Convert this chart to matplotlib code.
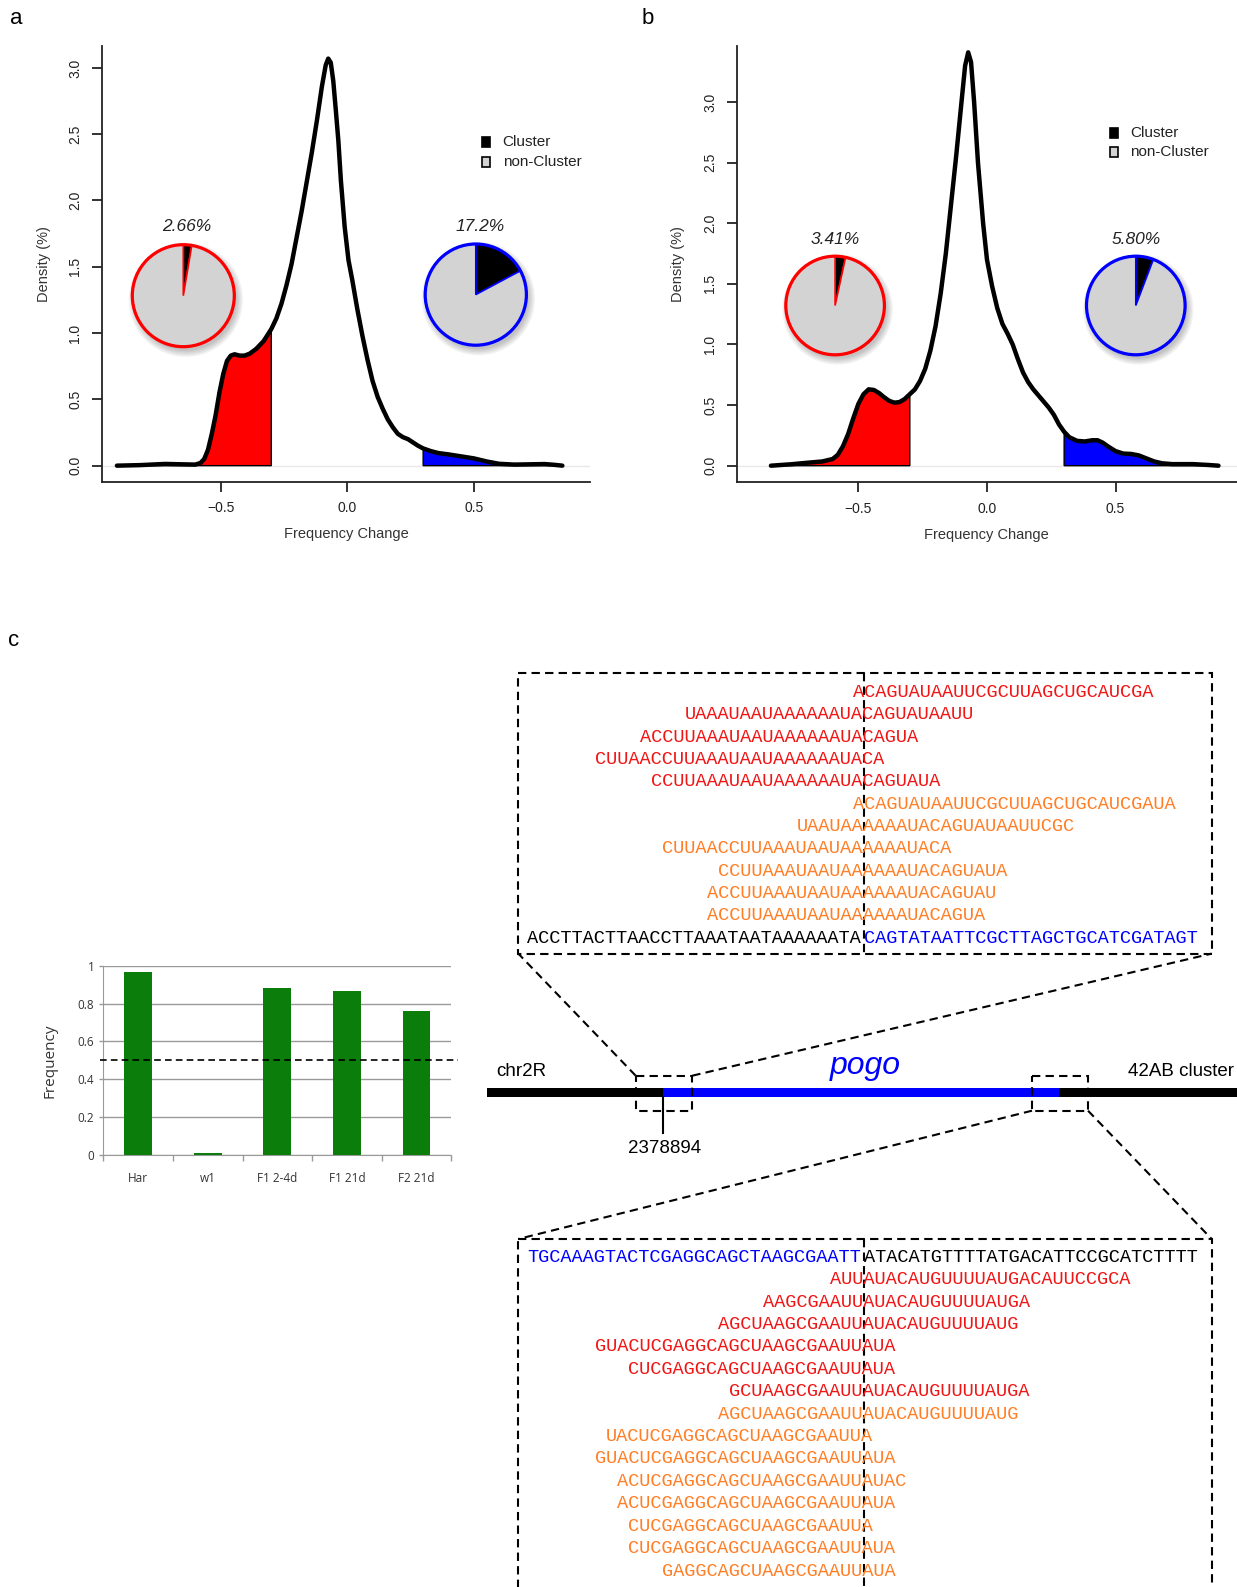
import matplotlib
matplotlib.use('Agg')
import matplotlib.pyplot as plt
import numpy as np
from matplotlib.patches import Rectangle, Circle

# ---------------- data ----------------
# panel a: density of frequency change
a_x = [-0.91, -0.82, -0.72, -0.65, -0.60, -0.58, -0.565, -0.55, -0.535, -0.52, -0.505, -0.49,
       -0.475, -0.46, -0.445, -0.425, -0.405, -0.385, -0.36, -0.33, -0.30, -0.28, -0.26, -0.24,
       -0.22, -0.20, -0.18, -0.16, -0.14, -0.12, -0.10, -0.085, -0.075, -0.065, -0.055, -0.045,
       -0.035, -0.025, -0.01, 0.005, 0.02, 0.04, 0.06, 0.08, 0.10, 0.12, 0.14, 0.16, 0.18, 0.20,
       0.22, 0.24, 0.26, 0.28, 0.30, 0.33, 0.36, 0.40, 0.45, 0.50, 0.55, 0.60, 0.66, 0.72, 0.78,
       0.82, 0.85]
a_y = [0.0, 0.004, 0.013, 0.01, 0.008, 0.02, 0.05, 0.12, 0.24, 0.38, 0.55, 0.69,
       0.79, 0.83, 0.84, 0.83, 0.83, 0.845, 0.88, 0.94, 1.03, 1.11, 1.22, 1.36,
       1.52, 1.72, 1.92, 2.14, 2.36, 2.6, 2.86, 3.02, 3.07, 3.04, 2.9, 2.68,
       2.45, 2.15, 1.8, 1.55, 1.4, 1.18, 0.98, 0.8, 0.64, 0.52, 0.43, 0.35, 0.29, 0.24,
       0.215, 0.2, 0.175, 0.15, 0.13, 0.11, 0.095, 0.085, 0.07, 0.055, 0.032, 0.014, 0.008, 0.01, 0.012,
       0.006, 0.0]

# panel b
b_x = [-0.84, -0.76, -0.70, -0.64, -0.60, -0.58, -0.56, -0.54, -0.52, -0.50, -0.48, -0.46,
       -0.44, -0.42, -0.40, -0.38, -0.36, -0.34, -0.32, -0.30, -0.28, -0.26, -0.24, -0.22,
       -0.20, -0.18, -0.16, -0.14, -0.12, -0.10, -0.085, -0.073, -0.062, -0.05, -0.035, -0.015,
       0.0, 0.02, 0.04, 0.06, 0.08, 0.10, 0.12, 0.14, 0.16, 0.18, 0.20, 0.22, 0.24, 0.26,
       0.28, 0.30, 0.32, 0.35, 0.38, 0.41, 0.43, 0.45, 0.47, 0.50, 0.53, 0.56, 0.59, 0.62,
       0.65, 0.68, 0.72, 0.80, 0.86, 0.90]
b_y = [0.0, 0.012, 0.024, 0.035, 0.055, 0.09, 0.16, 0.26, 0.39, 0.51, 0.59, 0.63,
       0.625, 0.6, 0.565, 0.535, 0.52, 0.525, 0.55, 0.59, 0.63, 0.7, 0.8, 0.95,
       1.15, 1.42, 1.75, 2.15, 2.55, 2.98, 3.3, 3.41, 3.33, 3.0, 2.5, 2.0,
       1.7, 1.48, 1.3, 1.17, 1.09, 1.0, 0.88, 0.77, 0.69, 0.63, 0.58, 0.53, 0.48, 0.42,
       0.34, 0.28, 0.235, 0.205, 0.2, 0.21, 0.21, 0.19, 0.16, 0.12, 0.1, 0.097, 0.085, 0.06,
       0.035, 0.02, 0.013, 0.013, 0.006, 0.0]

# cluster share (%) in the down / up tails
a_pct = [2.66, 17.2]
b_pct = [3.41, 5.80]
pie_names = ['Cluster', 'non-Cluster']

# panel c bar chart
bar_cats = ['Har', 'w1', 'F1 2-4d', 'F1 21d', 'F2 21d']
bar_vals = [0.967, 0.012, 0.882, 0.868, 0.763]

# junction sequences
up_ref = ['ACCTTACTTAACCTTAAATAATAAAAAATA', 'CAGTATAATTCGCTTAGCTGCATCGATAGT']
up_reads = ['ACAGUAUAAUUCGCUUAGCUGCAUCGA', 'UAAAUAAUAAAAAAUACAGUAUAAUU', 'ACCUUAAAUAAUAAAAAAUACAGUA',
            'CUUAACCUUAAAUAAUAAAAAAUACA', 'CCUUAAAUAAUAAAAAAUACAGUAUA',
            'ACAGUAUAAUUCGCUUAGCUGCAUCGAUA', 'UAAUAAAAAAUACAGUAUAAUUCGC', 'CUUAACCUUAAAUAAUAAAAAAUACA',
            'CCUUAAAUAAUAAAAAAUACAGUAUA', 'ACCUUAAAUAAUAAAAAAUACAGUAU', 'ACCUUAAAUAAUAAAAAAUACAGUA']
up_start = [29, 14, 10, 6, 11, 29, 24, 12, 17, 16, 16]
up_kind = ['r', 'r', 'r', 'r', 'r', 'o', 'o', 'o', 'o', 'o', 'o']

lo_ref = ['TGCAAAGTACTCGAGGCAGCTAAGCGAATT', 'ATACATGTTTTATGACATTCCGCATCTTTT']
lo_reads = ['AUUAUACAUGUUUUAUGACAUUCCGCA', 'AAGCGAAUUAUACAUGUUUUAUGA', 'AGCUAAGCGAAUUAUACAUGUUUUAUG',
            'GUACUCGAGGCAGCUAAGCGAAUUAUA', 'CUCGAGGCAGCUAAGCGAAUUAUA', 'GCUAAGCGAAUUAUACAUGUUUUAUGA',
            'AGCUAAGCGAAUUAUACAUGUUUUAUG', 'UACUCGAGGCAGCUAAGCGAAUUA', 'GUACUCGAGGCAGCUAAGCGAAUUAUA',
            'ACUCGAGGCAGCUAAGCGAAUUAUAC', 'ACUCGAGGCAGCUAAGCGAAUUAUA', 'CUCGAGGCAGCUAAGCGAAUUA',
            'CUCGAGGCAGCUAAGCGAAUUAUA', 'GAGGCAGCUAAGCGAAUUAUA']
lo_start = [27, 21, 17, 6, 9, 18, 17, 7, 6, 8, 8, 9, 9, 12]
lo_kind = ['r', 'r', 'r', 'r', 'r', 'r', 'o', 'o', 'o', 'o', 'o', 'o', 'o', 'o']

# ---------------- figure ----------------
W, H = 1237, 1587
fig = plt.figure(figsize=(W / 100, H / 100), dpi=100)
plt.rcParams['font.family'] = ['Liberation Sans', 'DejaVu Sans']

RED, ORANGE, BLUE = '#f01616', '#ff7f27', '#0000ff'


def px_axes(x0, y0, x1, y1):
    return fig.add_axes([x0 / W, 1 - y1 / H, (x1 - x0) / W, (y1 - y0) / H])


def density_panel(box, x, y, xlim, ylim):
    ax = px_axes(*box)
    x = np.array(x)
    y = np.array(y)
    ax.axhline(0, color='#e8e8e8', lw=1, zorder=0)
    lo = x <= -0.3
    hi = x >= 0.3
    ax.fill(np.r_[x[lo], x[lo][-1], x[lo][0]], np.r_[y[lo], 0, 0],
            facecolor='#ff0000', edgecolor='black', lw=1, zorder=1)
    ax.fill(np.r_[x[hi], x[hi][-1], x[hi][0]], np.r_[y[hi], 0, 0],
            facecolor='#0000ff', edgecolor='black', lw=1, zorder=1)
    ax.plot(x, y, color='black', lw=3.2, solid_capstyle='round', solid_joinstyle='round', zorder=2)
    ax.set_xlim(*xlim)
    ax.set_ylim(*ylim)
    ax.set_xticks([-0.5, 0.0, 0.5])
    ax.set_xticklabels(['\u22120.5', '0.0', '0.5'])
    ax.set_yticks(np.arange(0, 3.01, 0.5))
    ax.set_yticklabels(['%.1f' % v for v in np.arange(0, 3.01, 0.5)], rotation=90, va='center')
    for s in ['top', 'right']:
        ax.spines[s].set_visible(False)
    for s in ['left', 'bottom']:
        ax.spines[s].set_linewidth(1.3)
        ax.spines[s].set_color('#222222')
    ax.tick_params(length=7, width=1.3, color='#222222', labelsize=10, labelcolor='#222222', pad=7)
    ax.set_xlabel('Frequency Change', fontsize=10.5, color='#333333')
    ax.set_ylabel('Density (%)', fontsize=10.5, color='#333333')
    ax.xaxis.set_label_coords(0.5, -0.104)
    ax.yaxis.set_label_coords(-0.104, 0.5)
    return ax


def pie_at(cx, cy, r, pct, edge):
    pad = 1.3
    pax = px_axes(cx - r * pad, cy - r * pad, cx + r * pad, cy + r * pad)
    for k in range(5):
        pax.add_patch(Circle((0.05, -0.08), 1.0 + 0.03 * k, color='black', alpha=0.05, lw=0, zorder=0))
    pax.pie([pct, 100 - pct], colors=['black', '#d3d3d3'], startangle=90, counterclock=False,
            radius=1, wedgeprops=dict(edgecolor=edge, linewidth=1.2))
    pax.add_patch(Circle((0, 0), 1.0, fill=False, edgecolor=edge, lw=2.3, zorder=5))
    pax.set_xlim(-pad, pad)
    pax.set_ylim(-pad, pad)
    pax.axis('off')


density_panel((101.7, 45.6, 590.2, 481.7), a_x, a_y, (-0.970, 0.960), (-0.121, 3.168))
density_panel((736.7, 45.6, 1237, 482.3), b_x, b_y, (-0.973, 0.972), (-0.137, 3.466))

pie_at(183.3, 295.7, 51, a_pct[0], '#ff0000')
pie_at(475.8, 294.6, 50.6, a_pct[1], '#0000ff')
pie_at(835.1, 305.5, 49.3, b_pct[0], '#ff0000')
pie_at(1135.8, 305.5, 49.3, b_pct[1], '#0000ff')

# ---------------- bar chart ----------------
bx = px_axes(103.3, 965.7, 451.3, 1155)
pos = np.arange(len(bar_cats))
bx.bar(pos, bar_vals, width=0.4, color='#0a7d0a', zorder=3)
bx.set_xlim(-0.5, len(bar_cats) - 0.5)
bx.set_ylim(0, 1)
bx.set_yticks(np.arange(0, 1.01, 0.2))
bx.set_yticklabels(['0', '0.2', '0.4', '0.6', '0.8', '1'])
bx.yaxis.grid(True, color='#9a9a9a', lw=1)
bx.set_axisbelow(True)
bx.set_xticks(np.arange(-0.5, len(bar_cats), 1.0))
bx.set_xticklabels([])
bx.set_xticks(pos, minor=True)
bx.set_xticklabels(bar_cats, minor=True, fontfamily='Open Sans', fontsize=8.5, color='#333333')
bx.tick_params(axis='x', which='major', length=4, color='#9a9a9a', width=1)
bx.tick_params(axis='x', which='minor', length=0, pad=12)
bx.tick_params(axis='y', length=3, color='#9a9a9a', width=1, labelsize=8.5, labelcolor='#333333')
for lab in bx.get_yticklabels():
    lab.set_fontfamily('Open Sans')
for s in ['top', 'right']:
    bx.spines[s].set_visible(False)
for s in ['left', 'bottom']:
    bx.spines[s].set_color('#9a9a9a')
bx.plot([-0.55, 4.59], [0.5, 0.5], color='black', lw=1.2, ls=(0, (4, 2.5)), clip_on=False, zorder=4)
bx.set_ylabel('Frequency', fontfamily='Open Sans', fontsize=11, color='#333333')
bx.yaxis.set_label_coords(-0.133, 0.5)

# ---------------- overlay (labels, diagram, sequences) ----------------
ov = fig.add_axes([0, 0, 1, 1])
ov.set_xlim(0, W)
ov.set_ylim(H, 0)
ov.axis('off')

ov.text(16, 18, 'a', fontsize=16, ha='center', va='center')
ov.text(648, 18, 'b', fontsize=16, ha='center', va='center')
ov.text(14, 641, 'c', fontsize=16, ha='center', va='center')

# pie percentages
for (cx, cy), p in zip([(186.7, 226.7), (479.8, 226.8)], a_pct):
    ov.text(cx, cy, '%g%%' % p, fontsize=12.5, style='italic', ha='center', va='center', color='#222222')
for (cx, cy), p in zip([(835.1, 239.9), (1135.8, 239.9)], b_pct):
    ov.text(cx, cy, '%.2f%%' % p, fontsize=12.5, style='italic', ha='center', va='center', color='#222222')

# legends
for lx, ly in [(485.7, 142.3), (1113.5, 132.6)]:
    for k, (name, fc) in enumerate(zip(pie_names, ['black', '#d3d3d3'])):
        yy = ly + 19.3 * k
        ov.add_patch(Rectangle((lx - 4, yy - 5), 8, 10, facecolor=fc, edgecolor='black', lw=1.2))
        ov.text(lx + 17, yy, name, fontsize=11, va='center', ha='left', color='#222222')

# chromosome diagram
ov.add_patch(Rectangle((486.9, 1088.3), W - 486.9, 8.4, color='black', lw=0))
ov.add_patch(Rectangle((663.3, 1088.3), 1059 - 663.3, 8.4, color=BLUE, lw=0))
ov.text(496, 1071, 'chr2R', fontsize=13.5, ha='left', va='center')
ov.text(865.5, 1066, 'pogo', fontsize=23, style='italic', color=BLUE, ha='center', va='center')
ov.text(1128, 1071, '42AB cluster', fontsize=13.5, ha='left', va='center')
ov.plot([663.3, 663.3], [1096.7, 1133.3], color='black', lw=1.5)
ov.text(665, 1148.5, '2378894', fontsize=13.5, ha='center', va='center')

dash = (0, (4, 2.5))
for x0, x1 in [(635.7, 692.3), (1032, 1088)]:
    ov.add_patch(Rectangle((x0, 1075.7), x1 - x0, 35, fill=False, ls=dash, lw=1.5, edgecolor='black'))

bl, br = 518.3, 1211.7
up_top, up_bot = 673, 953.6
lo_top = 1239
ov.add_patch(Rectangle((bl, up_top), br - bl, up_bot - up_top, fill=False, ls=dash, lw=1.5, edgecolor='black'))
ov.add_patch(Rectangle((bl, lo_top), br - bl, 500, fill=False, ls=dash, lw=1.5, edgecolor='black'))
ov.plot([635.7, bl], [1075.7, up_bot], color='black', lw=1.5, ls=dash)
ov.plot([692.3, br], [1075.7, up_bot], color='black', lw=1.5, ls=dash)
ov.plot([1032, bl], [1110.7, lo_top], color='black', lw=1.5, ls=dash)
ov.plot([1088, br], [1110.7, lo_top], color='black', lw=1.5, ls=dash)

cw = 11.22
x0 = 527.4
junc = x0 + 30 * cw
ov.plot([junc, junc], [up_top, up_bot], color='black', lw=1.5, ls=dash)
ov.plot([junc, junc], [lo_top, H + 5], color='black', lw=1.5, ls=dash)

mono = dict(fontfamily='Liberation Mono', fontsize=13.46, va='center', ha='left')
cmap = {'r': RED, 'o': ORANGE}

row = 22.36
for i, (s, c, k) in enumerate(zip(up_reads, up_start, up_kind)):
    ov.text(x0 + c * cw, 692.4 + i * row, s, color=cmap[k], **mono)
yref = 692.4 + len(up_reads) * row
ov.text(x0, yref, up_ref[0], color='black', **mono)
ov.text(x0 + 30 * cw, yref, up_ref[1], color=BLUE, **mono)

row = 22.41
ov.text(x0, 1257.3, lo_ref[0], color=BLUE, **mono)
ov.text(x0 + 30 * cw, 1257.3, lo_ref[1], color='black', **mono)
for i, (s, c, k) in enumerate(zip(lo_reads, lo_start, lo_kind)):
    ov.text(x0 + c * cw, 1257.3 + (i + 1) * row, s, color=cmap[k], **mono)

fig.savefig('out.png', dpi=100)
